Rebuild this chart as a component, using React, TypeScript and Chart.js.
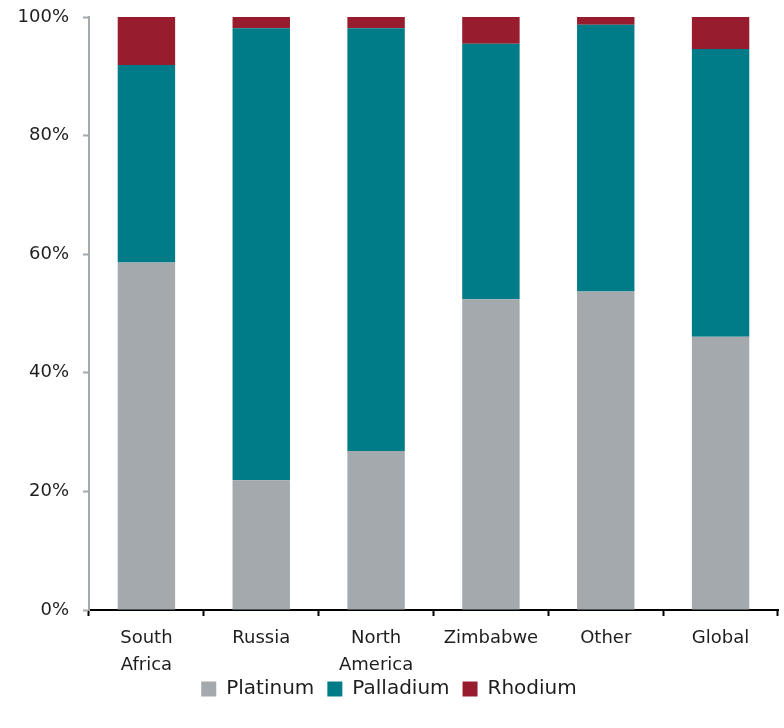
import React, { useEffect, useRef } from "react";
import { Chart, registerables } from "chart.js";

Chart.register(...registerables);

const categories: (string | string[])[] = [
  ["South", "Africa"],
  "Russia",
  ["North", "America"],
  "Zimbabwe",
  "Other",
  "Global",
];

const platinum = [58.6, 21.9, 26.8, 52.4, 53.7, 46.1];
const palladium = [33.3, 76.2, 71.3, 43.1, 45.0, 48.5];
const rhodium = [8.1, 1.9, 1.9, 4.5, 1.3, 5.4];

const yTicks = [0, 20, 40, 60, 80, 100];

const FONT = "'DejaVu Sans', sans-serif";
const TEXT = "#1e1e1e";

// The category axis is kept compact so the legend sits close to it;
// its label clip box is widened after layout so two-line labels show fully.
const widenXLabelArea = {
  id: "widenXLabelArea",
  afterLayout(chart: any) {
    const x = chart.scales.x;
    if (x) {
      x.bottom = x.top + 80;
      x.height = 80;
    }
  },
};

export default function App() {
  const canvasRef = useRef<HTMLCanvasElement | null>(null);

  useEffect(() => {
    const ctx = canvasRef.current;
    if (!ctx) return;
    const chart = new Chart(ctx, {
      type: "bar",
      data: {
        labels: categories,
        datasets: [
          { label: "Platinum", data: platinum, backgroundColor: "#A3A9AC" },
          { label: "Palladium", data: palladium, backgroundColor: "#007C89" },
          { label: "Rhodium", data: rhodium, backgroundColor: "#961C2E" },
        ],
      },
      plugins: [widenXLabelArea],
      options: {
        animation: false,
        responsive: false,
        maintainAspectRatio: false,
        layout: { padding: { top: 17, right: 6, left: 0, bottom: 19 } },
        datasets: {
          bar: { categoryPercentage: 1, barPercentage: 0.5 },
        },
        plugins: {
          legend: {
            position: "bottom",
            labels: {
              boxWidth: 15,
              boxHeight: 15,
              padding: 13,
              color: TEXT,
              font: { family: FONT, size: 20 },
            },
          },
          tooltip: { enabled: false },
        },
        scales: {
          x: {
            stacked: true,
            afterFit: (scale: any) => {
              scale.height = 56;
            },
            border: { color: "#000000", width: 2 },
            grid: {
              offset: true,
              drawOnChartArea: false,
              drawTicks: true,
              tickLength: 6,
              tickColor: "#000000",
              tickWidth: 2,
            },
            ticks: {
              color: TEXT,
              font: { family: FONT, size: 18, lineHeight: 1.5 },
              maxRotation: 0,
              padding: 9,
            },
          },
          y: {
            stacked: true,
            min: 0,
            max: 100,
            afterBuildTicks: (scale: any) => {
              scale.ticks = yTicks.map((v) => ({ value: v }));
            },
            afterFit: (scale: any) => {
              scale.width = 89;
              scale.paddingTop = 0;
              scale.paddingBottom = 0;
            },
            border: { color: "#A3A9AC", width: 2 },
            grid: {
              drawOnChartArea: false,
              drawTicks: true,
              tickLength: 6,
              tickColor: "#A3A9AC",
              tickWidth: 2,
            },
            ticks: {
              color: TEXT,
              font: { family: FONT, size: 18 },
              padding: 14,
              callback: (v: any) => `${v}%`,
            },
          },
        },
      },
    });
    return () => chart.destroy();
  }, []);

  return (
    <div style={{ position: "absolute", left: 0, top: 0, width: 784, height: 728 }}>
      <canvas ref={canvasRef} width={784} height={728} />
    </div>
  );
}
